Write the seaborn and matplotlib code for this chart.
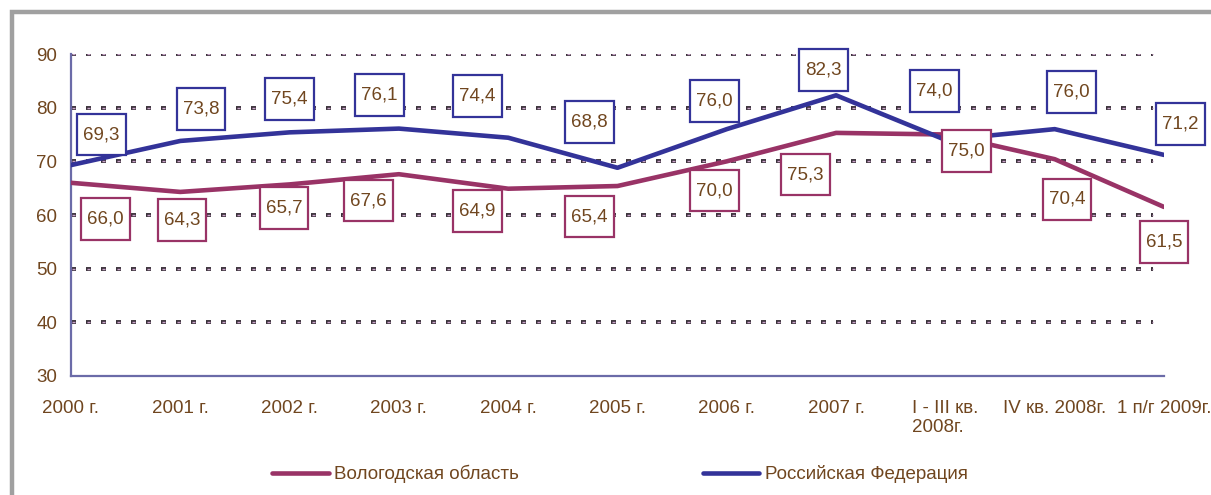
import matplotlib
matplotlib.use('Agg')
import matplotlib.pyplot as plt
import seaborn as sns
import pandas as pd
from matplotlib.patches import Rectangle
from matplotlib.path import Path

# data
periods = ['2000 г.', '2001 г.', '2002 г.', '2003 г.', '2004 г.', '2005 г.',
           '2006 г.', '2007 г.', 'I - III кв.\n2008г.', 'IV кв. 2008г.', '1 п/г 2009г.']
vologda = [66.0, 64.3, 65.7, 67.6, 64.9, 65.4, 70.0, 75.3, 75.0, 70.4, 61.5]
russia = [69.3, 73.8, 75.4, 76.1, 74.4, 68.8, 76.0, 82.3, 74.0, 76.0, 71.2]
series_names = ['Вологодская область', 'Российская Федерация']

# label offsets (points) for the boxed value labels
off_vol = [(25, -26), (1, -20), (-4, -17), (-22, -19), (-22, -16), (-20, -22),
           (-9, -21), (-22, -30), (15, -12), (9, -29), (0, -25)]
off_rus = [(22, 22), (15, 23), (0, 24), (-14, 24), (-22, 30), (-20, 33),
           (-9, 20), (-9, 18), (-8, 35), (12, 27), (12, 22)]

colors = {'Вологодская область': '#993366', 'Российская Федерация': '#333399'}
text_col = '#70461f'
axis_col = '#6b6ba8'
fs = 13.5


def wide_box(x0, y0, width, height, mutation_size):
    # square box with separate horizontal / vertical padding
    px, py = 0.32 * mutation_size, 0.66 * mutation_size
    x0, y0 = x0 - px, y0 - py
    x1, y1 = x0 + width + 2 * px, y0 + height + 2 * py
    return Path([(x0, y0), (x1, y0), (x1, y1), (x0, y1), (x0, y0)], closed=True)


df = pd.DataFrame({
    'x': list(range(len(periods))) * 2,
    'value': vologda + russia,
    'series': [series_names[0]] * len(vologda) + [series_names[1]] * len(russia),
})

sns.set_style('white')
plt.rcParams['font.family'] = ['Liberation Sans', 'DejaVu Sans']
plt.rcParams['lines.scale_dashes'] = False

fig = plt.figure(figsize=(12.11, 4.95), dpi=100)
ax = fig.add_axes([71 / 1211, 1 - 376 / 495, (1164 - 71) / 1211, (376 - 54) / 495])

sns.lineplot(data=df, x='x', y='value', hue='series', hue_order=series_names,
             palette=colors, linewidth=3.3, sort=False, ax=ax, legend=True, zorder=3)

ax.set_xlim(0, len(periods) - 1)
ax.set_ylim(30, 90)
ax.set_yticks(range(30, 91, 10))
ax.set_xticks(range(len(periods)))
ax.set_xticklabels(periods)
ax.set_xlabel('')
ax.set_ylabel('')

# dotted grid (dark dash with pink core)
for yv in range(40, 91, 10):
    ax.plot([0, 9.9], [yv, yv], color='#3a303a', lw=2.8, linestyle=(0, (3.6, 7.2)), zorder=1)
    ax.plot([0, 9.9], [yv, yv], color='#c8a2c8', lw=1.0, linestyle=(-0.7, (2.2, 8.6)), zorder=1.1)

for s in ['top', 'right']:
    ax.spines[s].set_visible(False)
for s in ['left', 'bottom']:
    ax.spines[s].set_color(axis_col)
    ax.spines[s].set_linewidth(1.6)
ax.tick_params(axis='both', colors=axis_col, length=6, width=1.6, labelsize=fs,
               labelcolor=text_col, direction='out')
ax.tick_params(axis='y', pad=4)
ax.tick_params(axis='x', pad=11)
for lbl in ax.get_xticklabels():
    lbl.set_multialignment('left')

# boxed value labels
for name, vals, offs in [(series_names[1], russia, off_rus), (series_names[0], vologda, off_vol)]:
    for i, (v, o) in enumerate(zip(vals, offs)):
        ax.annotate(f'{v:.1f}'.replace('.', ','), xy=(i, v), xytext=o,
                    textcoords='offset points', ha='center', va='center',
                    fontsize=fs, color=text_col, zorder=5,
                    bbox=dict(boxstyle=wide_box, fc='white',
                              ec=colors[name], lw=1.6))

# legend below
ax.get_legend().remove()
handles, labels = ax.get_legend_handles_labels()
leg = fig.legend(handles, labels, loc='center', bbox_to_anchor=(0.512, 0.042), ncol=2,
                 frameon=False, fontsize=fs, handlelength=3.0, columnspacing=9.8,
                 handletextpad=0.3)
for t in leg.get_texts():
    t.set_color(text_col)
for h in leg.get_lines():
    h.set_linewidth(3.3)

# grey outer frame
fig.patches.append(Rectangle((12 / 1211, -0.2), 1.5, 1.2 - 12 / 495, transform=fig.transFigure,
                             fill=False, ec='#a0a0a0', lw=3.2, zorder=0))

fig.savefig('out.png', dpi=100)
